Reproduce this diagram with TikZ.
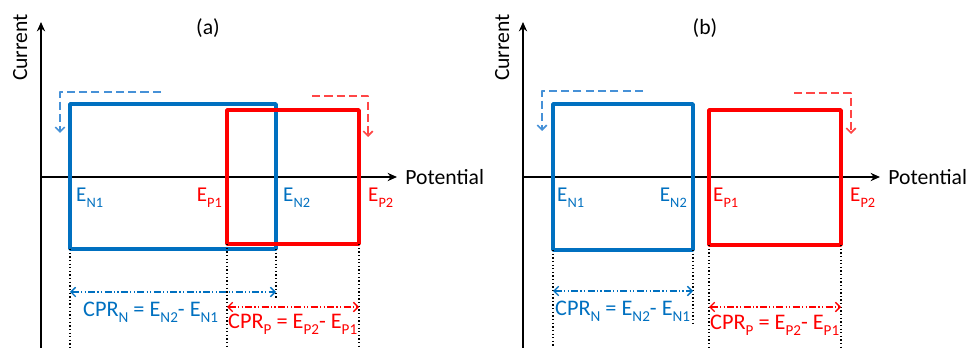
\documentclass[tikz,border=0pt]{standalone}
\usepackage{fontspec}
\setmainfont{Carlito}
\usetikzlibrary{arrows.meta}
\definecolor{nblue}{RGB}{0,112,192}
\definecolor{pred}{RGB}{255,0,0}
\definecolor{sblue}{RGB}{70,145,215}
\definecolor{sred}{RGB}{255,70,70}
\newcommand{\sbs}[1]{\raisebox{-0.24em}{\scalebox{0.68}{#1}}}
\tikzset{
	axis/.style={line width=2.4pt,-{Stealth[length=8pt,width=7pt]}},
	cyc/.style={line width=3pt},
	sweep/.style={line width=1.4pt,dash pattern=on 7pt off 3.5pt,-{Straight Barb[length=4pt,width=8pt]}},
	span/.style={line width=1.2pt,dash pattern=on 6pt off 2pt on 1pt off 2pt on 1pt off 2pt,{Straight Barb[length=4pt,width=8pt]}-{Straight Barb[length=4pt,width=8pt]}},
	guide/.style={line width=1.1pt,dotted},
	big/.style={font=\fontsize{18.5}{22}\selectfont,inner sep=0pt},
	lab/.style={font=\fontsize{18}{21}\selectfont,inner sep=0pt},
	cpr/.style={font=\fontsize{19}{22}\selectfont,inner sep=0pt}
}
\begin{document}
\begin{tikzpicture}[x=0.03cm,y=-0.03cm,line join=round]
	\useasboundingbox (0,0) rectangle (973,348);
	\path (41,348)coordinate(YA0) (41,22)coordinate(YA1) (41,177)coordinate(XA0) (397,177)coordinate(XA1)
		(523,348)coordinate(YB0) (523,22)coordinate(YB1) (523,177)coordinate(XB0) (880,177)coordinate(XB1);
	\draw[axis] (YA0)--(YA1);
	\draw[axis] (XA0)--(XA1);
	\draw[axis] (YB0)--(YB1);
	\draw[axis] (XB0)--(XB1);
	\foreach \a/\o in {A/41,B/523} {
		\node[big,right=7pt] (pot\a) at (X\a1) {Potential};
		\node[big,rotate=90,anchor=base] (cur\a) at (\o-14,47.5) {Current};
	}
	\node[big] (tA) at (208,28) {(a)};
	\node[big] (tB) at (705,28) {(b)};
	% (a)
	\draw[cyc,nblue] (70,104) rectangle (276,249);
	\draw[cyc,pred] (227,110) rectangle (359,244);
	\draw[sweep,sblue] (161,92)--(60,92)--(60,133);
	\draw[sweep,sred] (312,96)--(368,96)--(368,137);
	\foreach \x/\s/\e in {70/249/348,276/249/298,227/244/348,359/244/348}\draw[guide] (\x,\s)--(\x,\e);
	\draw[span,nblue] (70,292)--(276,292);
	\draw[span,pred] (227,307)--(359,307);
	\node[lab,nblue,anchor=base west] (en1A) at (76,202) {E\sbs{N1}};
	\node[lab,pred,anchor=base east] (ep1A) at (222,202) {E\sbs{P1}};
	\node[lab,nblue,anchor=base west] (en2A) at (283,202) {E\sbs{N2}};
	\node[lab,pred,anchor=base west] (ep2A) at (368,202) {E\sbs{P2}};
	\node[cpr,nblue,anchor=base west] (cnA) at (83,317) {CPR\sbs{N} = E\sbs{N2}- E\sbs{N1}};
	\node[cpr,pred,anchor=base west] (cpA) at (228,329) {CPR\sbs{P} = E\sbs{P2}- E\sbs{P1}};
	% (b)
	\draw[cyc,nblue] (553,104) rectangle (693,250);
	\draw[cyc,pred] (709,110) rectangle (841,245);
	\draw[sweep,sblue] (643,91)--(542,91)--(542,131);
	\draw[sweep,sred] (794,93)--(851,93)--(851,134);
	\foreach \x/\s/\e in {553/250/348,693/250/326,709/245/348,841/245/348}\draw[guide] (\x,\s)--(\x,\e);
	\draw[span,nblue] (553,291)--(693,291);
	\draw[span,pred] (709,307)--(841,307);
	\node[lab,nblue,anchor=base west] (en1B) at (557,202) {E\sbs{N1}};
	\node[lab,nblue,anchor=base east] (en2B) at (687,202) {E\sbs{N2}};
	\node[lab,pred,anchor=base west] (ep1B) at (713,202) {E\sbs{P1}};
	\node[lab,pred,anchor=base west] (ep2B) at (850,202) {E\sbs{P2}};
	\node[cpr,nblue,anchor=base west] (cnB) at (555,316) {CPR\sbs{N} = E\sbs{N2}- E\sbs{N1}};
	\node[cpr,pred,anchor=base west] (cpB) at (710,330) {CPR\sbs{P} = E\sbs{P2}- E\sbs{P1}};
\end{tikzpicture}
\end{document}
